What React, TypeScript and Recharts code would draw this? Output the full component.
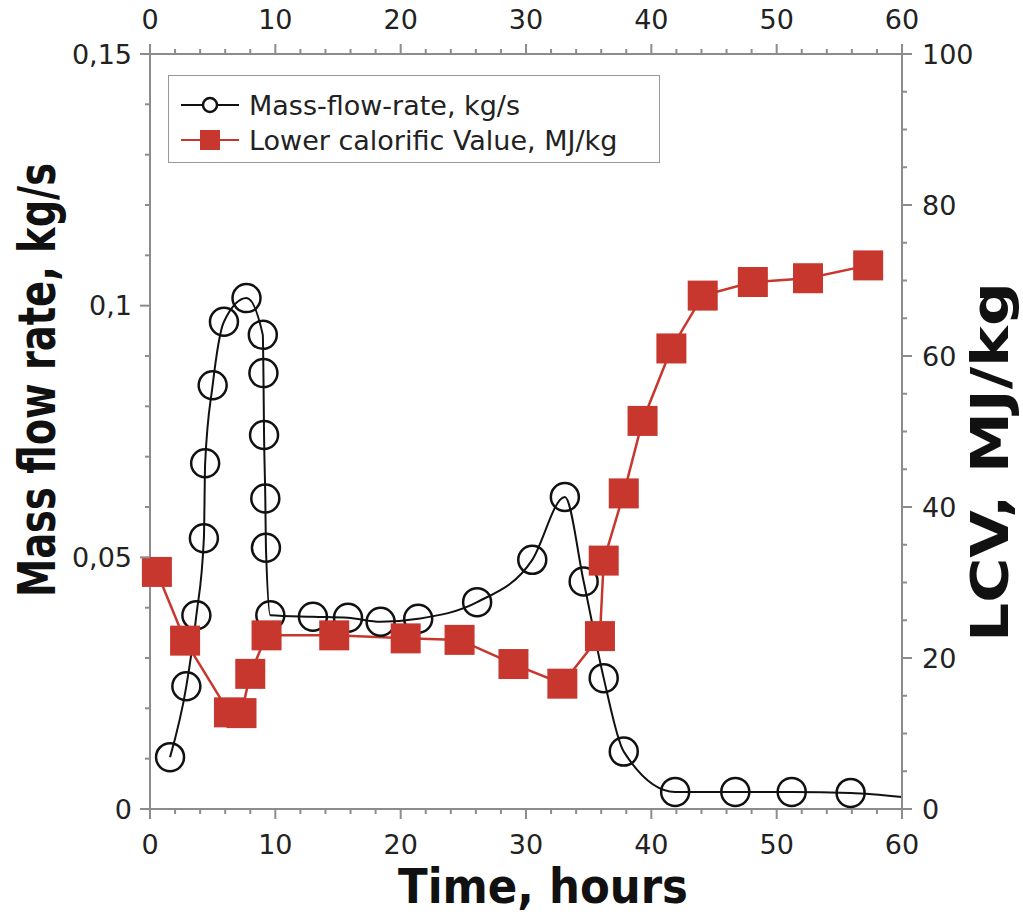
import { ComposedChart, Line, XAxis, YAxis } from "recharts";

// mass-flow curve: time (h) and kg/s; the last point is only the end of the fitted curve (no marker)
const massTime = [1.6, 2.9, 3.7, 4.3, 4.4, 5.0, 5.9, 7.7, 9.0, 9.05, 9.1, 9.2, 9.25, 9.6, 13.0, 15.8, 18.4, 21.4, 26.1, 30.5, 33.1, 34.6, 36.2, 37.8, 41.9, 46.7, 51.2, 55.9, 60];
const massFlow = [0.0103, 0.0244, 0.0385, 0.0538, 0.0687, 0.0842, 0.0968, 0.1015, 0.0942, 0.0866, 0.0743, 0.0617, 0.0519, 0.0385, 0.0382, 0.038, 0.0372, 0.0378, 0.0411, 0.0495, 0.062, 0.0452, 0.026, 0.0114, 0.0034, 0.0034, 0.0034, 0.0032, 0.0024];

// lower calorific value: time (h) and MJ/kg
const lcvTime = [0.55, 2.8, 6.3, 7.3, 8.0, 9.3, 14.7, 20.4, 24.7, 29.0, 32.9, 35.9, 36.2, 37.8, 39.3, 41.6, 44.1, 48.1, 52.5, 57.3];
const lcvValue = [31.4, 22.3, 12.8, 12.7, 17.9, 23.0, 23.0, 22.6, 22.4, 19.2, 16.6, 22.9, 32.9, 41.8, 51.4, 61.0, 68.0, 69.8, 70.3, 72.0];

const timeMajorTicks = [0, 10, 20, 30, 40, 50, 60];
const massMajorTicks = [0, 0.05, 0.1, 0.15];
const massTickLabels = ["0", "0,05", "0,1", "0,15"];
const lcvMajorTicks = [0, 20, 40, 60, 80, 100];

const timeTicks = Array.from({ length: 31 }, (_, i) => i * 2);
const massTicks = Array.from({ length: 16 }, (_, i) => i / 100);
const lcvTicks = Array.from({ length: 21 }, (_, i) => i * 5);

const massData = massTime.map((t, i) => ({ t, v: massFlow[i] }));
const lcvData = lcvTime.map((t, i) => ({ t, v: lcvValue[i] }));

const axisGray = "#8c8c8c";
const red = "#c8372d";
const tickFont = { fontFamily: "DejaVu Sans", fontSize: 27, fill: "#222" };
const titleFont = { fontFamily: "DejaVu Sans", fontWeight: 700, fill: "#111" };

const isIn = (list: number[], v: number) => list.some((m) => Math.abs(m - v) < 1e-9);

const XTick = (side: "top" | "bottom") => (props: any) => {
  const { x, y, payload } = props;
  const major = isIn(timeMajorTicks, payload.value);
  const dir = side === "bottom" ? 1 : -1;
  return (
    <g>
      <line x1={x} x2={x} y1={y} y2={y + dir * (major ? 10 : 5)} stroke={axisGray} strokeWidth={2} />
      {major && (
        <text x={x} y={y + dir * 35} textAnchor="middle" dominantBaseline="central" {...tickFont}>
          {payload.value}
        </text>
      )}
    </g>
  );
};

const MassTick = (props: any) => {
  const { x, y, payload } = props;
  const idx = massMajorTicks.findIndex((m) => Math.abs(m - payload.value) < 1e-9);
  const major = idx >= 0;
  return (
    <g>
      <line x1={x} x2={x - (major ? 10 : 5)} y1={y} y2={y} stroke={axisGray} strokeWidth={2} />
      {major && (
        <text x={x - 18} y={y} textAnchor="end" dominantBaseline="central" {...tickFont}>
          {massTickLabels[idx]}
        </text>
      )}
    </g>
  );
};

const LcvTick = (props: any) => {
  const { x, y, payload } = props;
  const major = isIn(lcvMajorTicks, payload.value);
  return (
    <g>
      <line x1={x} x2={x + (major ? 10 : 5)} y1={y} y2={y} stroke={axisGray} strokeWidth={2} />
      {major && (
        <text x={x + 20} y={y} textAnchor="start" dominantBaseline="central" {...tickFont}>
          {payload.value}
        </text>
      )}
    </g>
  );
};

const MassDot = (props: any) => {
  const { cx, cy, index } = props;
  if (index === massData.length - 1) return <g key={`m${index}`} />;
  return <circle key={`m${index}`} cx={cx} cy={cy} r={14} fill="none" stroke="#111" strokeWidth={2.5} />;
};

const LcvDot = (props: any) => {
  const { cx, cy, index } = props;
  return <rect key={`l${index}`} x={cx - 15} y={cy - 15} width={30} height={30} fill={red} />;
};

function ChartLegend() {
  return (
    <div
      style={{
        position: "absolute",
        left: 168,
        top: 75,
        width: 492,
        height: 88,
        border: "1.5px solid #999",
        background: "#fff",
        boxSizing: "border-box",
      }}
    >
      <svg width={490} height={86}>
        <line x1={12} x2={70} y1={29} y2={29} stroke="#111" strokeWidth={2} />
        <circle cx={41} cy={29} r={7} fill="#fff" stroke="#111" strokeWidth={2.5} />
        <text x={80} y={29} dominantBaseline="central" {...tickFont}>
          Mass-flow-rate, kg/s
        </text>
        <line x1={12} x2={70} y1={64} y2={64} stroke={red} strokeWidth={2} />
        <rect x={31} y={54} width={20} height={20} fill={red} />
        <text x={80} y={64} dominantBaseline="central" {...tickFont}>
          Lower calorific Value, MJ/kg
        </text>
      </svg>
    </div>
  );
}

export default function App() {
  return (
    <div style={{ position: "relative", width: 1023, height: 915, background: "#fff" }}>
      <style>{"body{margin:0}"}</style>
      <ComposedChart width={1023} height={915} margin={{ top: 0, right: 0, bottom: 0, left: 0 }}>
        <XAxis
          xAxisId="bottom"
          type="number"
          dataKey="t"
          domain={[0, 60]}
          ticks={timeTicks}
          interval={0}
          height={106}
          tickSize={0}
          tickMargin={0}
          tickLine={false}
          axisLine={{ stroke: axisGray, strokeWidth: 2 }}
          tick={XTick("bottom")}
          label={{
            content: () => (
              <text x={543} y={903} textAnchor="middle" fontSize={48} textLength={290} lengthAdjust="spacingAndGlyphs" {...titleFont}>
                Time, hours
              </text>
            ),
          }}
        />
        <XAxis
          xAxisId="top"
          orientation="top"
          type="number"
          dataKey="t"
          domain={[0, 60]}
          allowDataOverflow
          ticks={timeTicks}
          interval={0}
          height={54}
          tickSize={0}
          tickMargin={0}
          tickLine={false}
          axisLine={{ stroke: axisGray, strokeWidth: 2 }}
          tick={XTick("top")}
        />
        <YAxis
          yAxisId="mass"
          type="number"
          domain={[0, 0.15]}
          ticks={massTicks}
          interval={0}
          width={150}
          tickSize={0}
          tickMargin={0}
          tickLine={false}
          axisLine={{ stroke: axisGray, strokeWidth: 2 }}
          tick={MassTick}
          label={{
            content: () => (
              <text
                x={55}
                y={380}
                transform="rotate(-90 55 380)"
                textAnchor="middle"
                fontSize={52}
                textLength={434}
                lengthAdjust="spacingAndGlyphs"
                {...titleFont}
              >
                Mass flow rate, kg/s
              </text>
            ),
          }}
        />
        <YAxis
          yAxisId="lcv"
          orientation="right"
          type="number"
          domain={[0, 100]}
          ticks={lcvTicks}
          interval={0}
          width={121}
          tickSize={0}
          tickMargin={0}
          tickLine={false}
          axisLine={{ stroke: axisGray, strokeWidth: 2 }}
          tick={LcvTick}
          label={{
            content: () => (
              <text
                x={1008}
                y={462}
                transform="rotate(-90 1008 462)"
                textAnchor="middle"
                fontSize={52}
                textLength={360}
                lengthAdjust="spacingAndGlyphs"
                {...titleFont}
              >
                LCV, MJ/kg
              </text>
            ),
          }}
        />
        {/* invisible copy so the top time axis gets a domain and its ticks */}
        <Line
          xAxisId="top"
          yAxisId="mass"
          data={massData}
          dataKey="v"
          stroke="none"
          dot={false}
          activeDot={false}
          legendType="none"
          isAnimationActive={false}
        />
        <Line
          xAxisId="bottom"
          yAxisId="mass"
          data={massData}
          dataKey="v"
          type="monotone"
          stroke="#111"
          strokeWidth={2}
          dot={MassDot}
          activeDot={false}
          isAnimationActive={false}
        />
        <Line
          xAxisId="bottom"
          yAxisId="lcv"
          data={lcvData}
          dataKey="v"
          type="linear"
          stroke={red}
          strokeWidth={2.5}
          dot={LcvDot}
          activeDot={false}
          isAnimationActive={false}
        />
      </ComposedChart>
      <ChartLegend />
    </div>
  );
}
